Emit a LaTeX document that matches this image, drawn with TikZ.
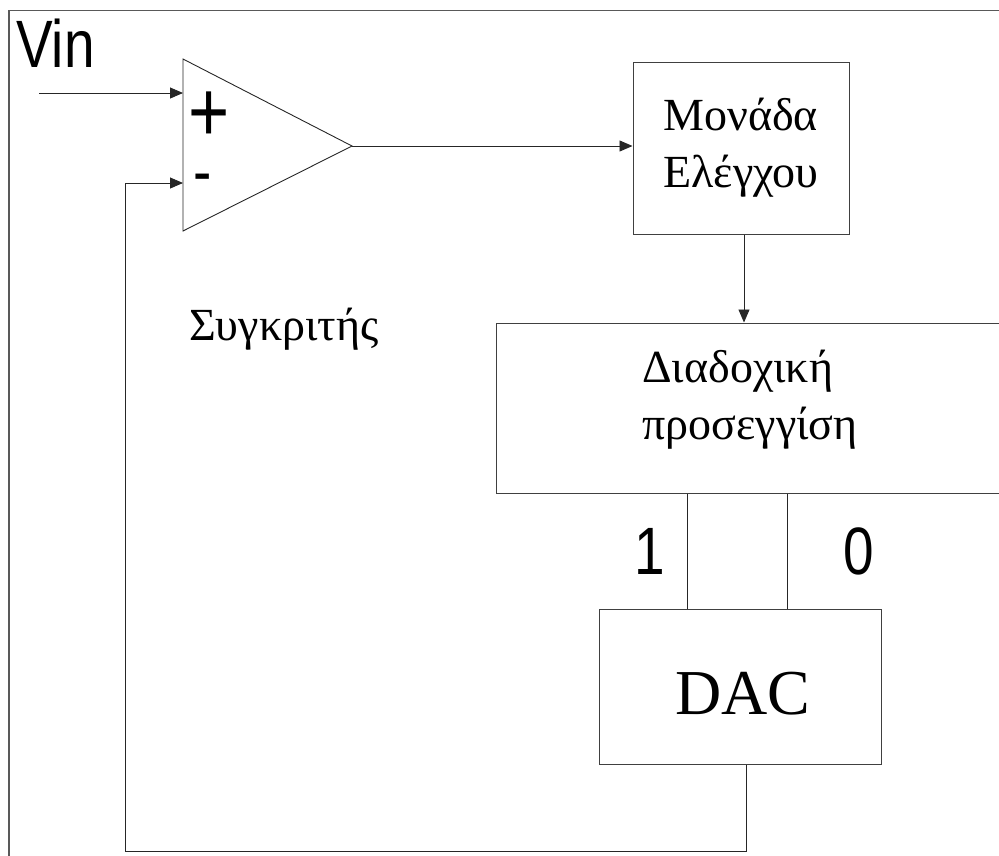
\documentclass[tikz,border=0pt]{standalone}
\usepackage{fontspec}
\setmainfont{Liberation Serif}
\newfontfamily\labelfont[FakeStretch=0.82]{Liberation Sans}
\usetikzlibrary{arrows.meta}
\usetikzlibrary{calc}

\tikzset{
  block/.style={draw=black!75, line width=1pt, inner sep=0pt},
  sig/.style={draw=black!85, line width=0.9pt},
  sigarrow/.style={sig, -{Triangle[length=13pt,width=11pt]}},
  greek/.style={font=\fontsize{46}{57}\selectfont, align=left, inner sep=0pt},
  sans/.style={font=\labelfont\fontsize{67}{67}\selectfont, inner sep=0pt}
}

\begin{document}
\begin{tikzpicture}[x=1pt,y=-1pt]
\clip (0,0) rectangle (999,855);

% frame
\draw[line width=1.4pt, black!65] (9,870) -- (9,10.5) -- (1020,10.5);

\node[sans, anchor=base west](vin) at (16,67) {Vin};

% comparator
\coordinate (tl) at (183,59);
\coordinate (bl) at (183,231);
\coordinate (out) at (352,146);
\draw[sig] (tl) -- (out) -- (bl) -- cycle;
\coordinate (inp) at (183,93);
\coordinate (inm) at (183,183);
\coordinate (vinstart) at (39,93);
\node[sans, font=\labelfont\fontsize{86}{86}\selectfont, text height=50pt, text depth=0pt, anchor=base](plus) at (209,141) {+};
\node[sans, text height=24pt, text depth=0pt, anchor=base](minus) at (203,194) {-};
\node[greek, anchor=base west](comp) at (189,340) {Συγκριτής};

% blocks
\node[block, greek, minimum width=216pt, minimum height=172pt](monada) at (741,148) {Μονάδα\\Ελέγχου};
\node[block, minimum width=530pt, minimum height=170pt](diad) at (761,408) {};
\node[greek](diadtext) at (750,400) {Διαδοχική\\προσεγγίση};
\node[block, minimum width=282pt, minimum height=155pt](dac) at (740,686.5) {};
\node[font=\fontsize{64}{64}\selectfont, inner sep=0pt, anchor=base](dactext) at (743,714) {DAC};

\node[sans](one) at (650,551) {1};
\node[sans](zero) at (859,551) {0};

% connectors
\coordinate (bit1) at (687,0);
\coordinate (bit0) at (787,0);
\coordinate (ctl) at (744,0);
\coordinate (fb) at (746,0);
\coordinate (fbleft) at (125,851);

\draw[sigarrow] (vinstart) -- (inp);
\draw[sigarrow] (out) -- (out -| monada.west);
\draw[sigarrow] (monada.south -| ctl) -- (diad.north -| ctl);
\foreach \bit in {bit1, bit0}
    \draw[sig] (diad.south -| \bit) -- (dac.north -| \bit);
\draw[sigarrow] (dac.south -| fb) |- (fbleft) |- (inm);

\end{tikzpicture}
\end{document}
